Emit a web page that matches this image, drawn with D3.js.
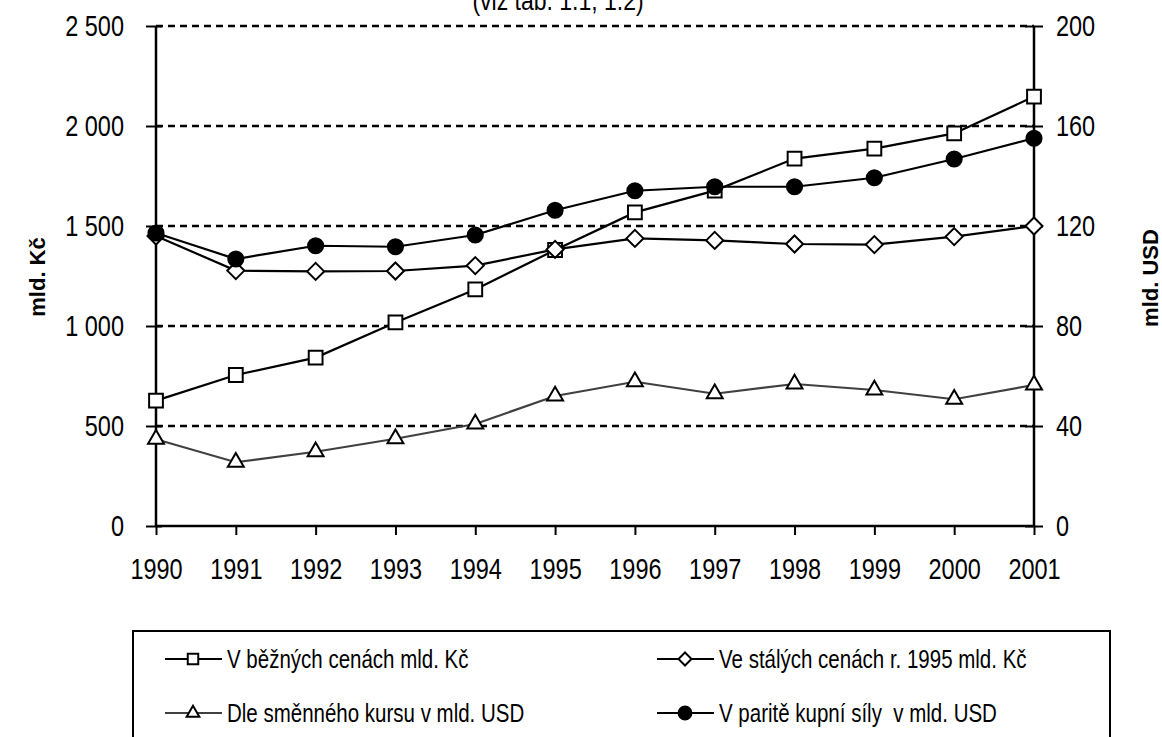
<!DOCTYPE html>
<html>
<head>
<meta charset="utf-8">
<script src="https://cdn.jsdelivr.net/npm/d3@7"></script>
<style>
  body { margin: 0; background: #fff; }
  svg { display: block; font-family: "Liberation Sans", Arial, sans-serif; }
  .st { transform: scaleY(1.22); transform-box: fill-box; transform-origin: center; }
</style>
</head>
<body>
<div id="viz"></div>
<script>
/* HDP CR 1990-2001 */

var years = [1990, 1991, 1992, 1993, 1994, 1995, 1996, 1997, 1998, 1999, 2000, 2001];
var bezne = [627, 755, 842, 1018, 1183, 1380, 1568, 1677, 1837, 1887, 1963, 2147];     // mld. Kc
var stale = [1450, 1277, 1273, 1275, 1302, 1383, 1438, 1428, 1410, 1407, 1447, 1500];  // mld. Kc
var kurs = [34.7, 25.5, 29.7, 34.9, 40.8, 52.0, 57.7, 52.9, 56.8, 54.4, 50.7, 56.4];   // mld. USD
var parita = [117.2, 106.8, 112.1, 111.7, 116.4, 126.3, 134.1, 135.7, 135.7, 139.3, 146.8, 155.1]; // mld. USD

var leftTicks = [0, 500, 1000, 1500, 2000, 2500];
var rightTicks = [0, 40, 80, 120, 160, 200];
var legendLabels = [
  'V běžných cenách mld. Kč',
  'Ve stálých cenách r. 1995 mld. Kč',
  'Dle směnného kursu v mld. USD',
  'V paritě kupní síly  v mld. USD'
];

var W = 1162, H = 737,
    plotL = 156, plotR = 1034, plotT = 26, plotB = 526;

var svg = d3.select('#viz').append('svg')
    .attr('width', W)
    .attr('height', H);

var xScale = d3.scalePoint().domain(years).range([plotL, plotR]).padding(0);
var yLeft = d3.scaleLinear().domain([0, 2500]).range([plotB, plotT]);
var yRight = d3.scaleLinear().domain([0, 200]).range([plotB, plotT]);

// title, cut at the top edge
svg.append('text')
    .attr('class', 'st')
    .attr('x', 558).attr('y', 8)
    .attr('text-anchor', 'middle')
    .style('font-size', '23px')
    .text('(viz tab. 1.1, 1.2)');

// dashed gridlines
svg.append('g').selectAll('line')
  .data(leftTicks.slice(1))
  .enter().append('line')
    .attr('x1', plotL).attr('x2', plotR)
    .attr('y1', function(d) { return yLeft(d); })
    .attr('y2', function(d) { return yLeft(d); })
    .attr('stroke', '#000')
    .attr('stroke-width', 2.5)
    .attr('stroke-dasharray', '7,5');

// axes
var xAxis = svg.append('g')
    .attr('transform', 'translate(0,' + plotB + ')')
    .call(d3.axisBottom(xScale).tickSize(9).tickPadding(26));

var lAxis = svg.append('g')
    .attr('transform', 'translate(' + plotL + ',0)')
    .call(d3.axisLeft(yLeft).tickValues(leftTicks).tickSize(10).tickPadding(22)
      .tickFormat(function(d) { return d3.format(',')(d).replace(',', '\u00a0'); }));

var rAxis = svg.append('g')
    .attr('transform', 'translate(' + plotR + ',0)')
    .call(d3.axisRight(yRight).tickValues(rightTicks).tickSize(9).tickPadding(13));

[xAxis, lAxis, rAxis].forEach(function(a) {
  a.select('.domain').attr('stroke', '#000').attr('stroke-width', 2.5);
  a.selectAll('.tick line').attr('stroke', '#000').attr('stroke-width', 2);
  a.selectAll('.tick text')
    .attr('class', 'st')
    .attr('fill', '#000')
    .style('font-size', '23.5px')
    .style('font-family', '"Liberation Sans", Arial, sans-serif');
});
lAxis.selectAll('.tick line').attr('x2', -10).attr('x1', 6);
rAxis.selectAll('.tick line').attr('x1', -9).attr('x2', 9);
xAxis.select('.domain').attr('d', 'M' + plotL + ',0H' + plotR);
lAxis.select('.domain').attr('d', 'M0,' + plotT + 'V' + plotB);
rAxis.select('.domain').attr('d', 'M0,' + plotT + 'V' + plotB);

// axis titles
svg.append('text')
    .attr('transform', 'translate(45,277) rotate(-90)')
    .attr('text-anchor', 'middle')
    .style('font-size', '22px')
    .style('font-weight', 'bold')
    .text('mld. Kč');

svg.append('text')
    .attr('transform', 'translate(1158,278) rotate(-90)')
    .attr('text-anchor', 'middle')
    .style('font-size', '22px')
    .style('font-weight', 'bold')
    .text('mld. USD');

// marker shapes
function diamond(r) {
  return 'M0,' + (-r) + 'L' + r + ',0L0,' + r + 'L' + (-r) + ',0Z';
}
var sq = d3.symbol().type(d3.symbolSquare).size(190);
var tri = d3.symbol().type(d3.symbolTriangle).size(110);
var circ = d3.symbol().type(d3.symbolCircle).size(180);

var series = [
  { vals: bezne, y: yLeft, line: '#000', sym: sq, fill: '#fff' },
  { vals: stale, y: yLeft, line: '#000', sym: diamond(8.5), fill: '#fff' },
  { vals: kurs, y: yRight, line: '#404040', sym: tri, fill: '#fff' },
  { vals: parita, y: yRight, line: '#000', sym: circ, fill: '#000' }
];

series.forEach(function(s) {
  var line = d3.line()
      .x(function(d, i) { return xScale(years[i]); })
      .y(function(d) { return s.y(d); });

  svg.append('path')
      .datum(s.vals)
      .attr('d', line)
      .attr('fill', 'none')
      .attr('stroke', s.line)
      .attr('stroke-width', 2.2);

  svg.append('g').selectAll('path')
    .data(s.vals)
    .enter().append('path')
      .attr('d', s.sym)
      .attr('transform', function(d, i) {
        return 'translate(' + xScale(years[i]) + ',' + s.y(d) + ')';
      })
      .attr('fill', s.fill)
      .attr('stroke', '#000')
      .attr('stroke-width', 2);
});

// legend
svg.append('rect')
    .attr('x', 133).attr('y', 631)
    .attr('width', 977).attr('height', 140)
    .attr('fill', 'none')
    .attr('stroke', '#000')
    .attr('stroke-width', 2);

var legX = [165, 657], legY = [659, 713];
var legSyms = [
  d3.symbol().type(d3.symbolSquare).size(110),
  diamond(6.5),
  d3.symbol().type(d3.symbolTriangle).size(70),
  d3.symbol().type(d3.symbolCircle).size(130)
];

legendLabels.forEach(function(lab, i) {
  var gx = legX[i % 2], gy = legY[Math.floor(i / 2)];
  var g = svg.append('g').attr('transform', 'translate(' + gx + ',' + gy + ')');
  g.append('line')
      .attr('x1', 0).attr('x2', 57)
      .attr('stroke', series[i].line)
      .attr('stroke-width', 2.2);
  g.append('path')
      .attr('d', legSyms[i])
      .attr('transform', 'translate(28,0)')
      .attr('fill', series[i].fill)
      .attr('stroke', '#000')
      .attr('stroke-width', 2);
  g.append('text')
      .attr('class', 'st')
      .attr('x', 62).attr('dy', '0.35em')
      .style('font-size', '20.5px')
      .style('white-space', 'pre')
      .text(lab);
});
</script>
</body>
</html>
